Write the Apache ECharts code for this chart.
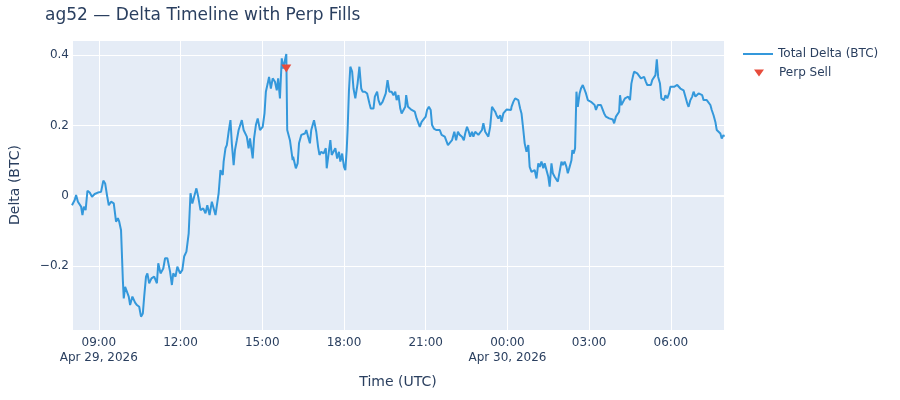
<!DOCTYPE html>
<html>
<head>
<meta charset="utf-8">
<script src="https://cdn.jsdelivr.net/npm/echarts@6/dist/echarts.min.js"></script>
<style>
  html, body { margin: 0; padding: 0; background: #fff; }
  #chart { width: 900px; height: 400px; }
</style>
</head>
<body>
<div id="chart"></div>
<script>
// series start, minutes are counted from here (UTC)
var startTime = Date.UTC(2026, 3, 29, 8, 0);

// total delta, minutes since start
var deltaMinutes = [
  1, 7, 10, 14, 18, 21, 24, 27, 31, 35, 40, 45, 51, 58, 65, 70, 74, 78, 82, 87,
  93, 98, 102, 105, 109, 113, 115, 118, 122, 126, 129, 134, 140, 144, 149, 153, 157, 160, 164, 167,
  171, 176, 182, 188, 191, 196, 202, 206, 211, 217, 221, 224, 229, 233, 239, 244, 248, 253, 258, 262,
  266, 269, 275, 279, 284, 290, 295, 299, 304, 309, 313, 317, 320, 324, 328, 333, 335, 339, 342, 346,
  350, 353, 357, 360, 364, 368, 371, 375, 379, 382, 386, 390, 393, 397, 399, 402, 406, 410, 415, 421,
  425, 428, 432, 435, 439, 443, 448, 452, 455, 459, 463, 466, 470, 473, 475, 481, 487,
  488, 492, 494, 498, 501, 506, 510, 514, 517, 521, 525, 528, 534, 539, 543, 546, 550, 555, 560, 562,
  566, 570, 573, 577, 581, 585, 589, 592, 596, 600, 603, 606, 608, 611, 614, 618, 621, 625, 630, 634,
  638, 641, 646, 651, 656, 659, 665, 668, 673, 676, 680, 685, 689, 692, 696, 700, 705, 709, 713, 716,
  720, 724, 727, 731, 735, 737, 741, 745, 749, 753, 756, 760, 764, 767, 771, 775, 780, 783, 787, 791,
  794, 798, 803, 807, 811, 815, 818, 822, 826, 829, 833, 838, 843, 847, 851, 855, 860, 864, 867, 871,
  875, 878, 882, 885, 889, 893, 896, 900, 904, 907, 911, 915, 918, 922, 926, 929, 933, 936, 940, 944,
  947, 951, 955, 958, 962, 968,
  969, 973, 977, 980, 984, 988, 991, 995, 998, 1002, 1006, 1009, 1013, 1017, 1020, 1024, 1028, 1031, 1035, 1039,
  1042, 1046, 1050, 1053, 1057, 1060, 1064, 1068, 1071, 1075, 1079, 1082, 1086, 1090, 1093, 1097, 1101, 1103, 1106, 1109,
  1112, 1115, 1119, 1122, 1126, 1130, 1133, 1137, 1141, 1144, 1148, 1152, 1155, 1159, 1162, 1166, 1170, 1173, 1177, 1181,
  1184, 1188, 1192, 1195, 1199, 1203, 1206, 1208, 1211, 1215, 1219, 1222, 1226, 1230, 1233, 1237, 1239, 1243, 1246, 1250,
  1254, 1257, 1261, 1265, 1268, 1272, 1276, 1279, 1283, 1286, 1289, 1292, 1296, 1299, 1303, 1305, 1308, 1312, 1316, 1319,
  1323, 1327, 1330, 1334, 1338, 1341, 1345, 1348, 1352, 1356, 1359, 1363, 1367, 1370, 1374, 1378, 1381, 1385, 1389, 1392,
  1396, 1399, 1403, 1407, 1410, 1414, 1418, 1421, 1425, 1429, 1432, 1436, 1437
];

var deltaValues = [
  -0.027, -0.012, 0.002, -0.017, -0.012, -0.031, -0.055, -0.031, -0.041, 0.014, 0.009, -0.003, 0.005, 0.009, 0.011, 0.043, 0.035, 0.002, -0.027, -0.017,
  -0.022, -0.074, -0.064, -0.074, -0.098, -0.240, -0.292, -0.259, -0.254, -0.287, -0.311, -0.287, -0.304, -0.311, -0.316, -0.344, -0.335, -0.287, -0.230, -0.221,
  -0.249, -0.235, -0.230, -0.249, -0.192, -0.221, -0.207, -0.178, -0.178, -0.216, -0.254, -0.221, -0.230, -0.202, -0.221, -0.211, -0.173, -0.159, -0.107, 0.007,
  -0.022, -0.008, 0.021, -0.003, -0.041, -0.036, -0.050, -0.027, -0.055, -0.017, -0.012, -0.055, -0.060, 0.007, 0.073, 0.059, 0.097, 0.135, 0.144, 0.182,
  0.215, 0.149, 0.087, 0.130, 0.158, 0.187, 0.187, 0.215, 0.187, 0.191, 0.168, 0.135, 0.163, 0.168, 0.106, 0.163, 0.201, 0.220, 0.187, 0.196,
  0.234, 0.296, 0.319, 0.338, 0.305, 0.334, 0.324, 0.300, 0.334, 0.277, 0.391, 0.362, 0.367, 0.403, 0.187, 0.158, 0.101,
  0.111, 0.116, 0.078, 0.092, 0.149, 0.173, 0.168, 0.177, 0.187, 0.168, 0.149, 0.187, 0.215, 0.182, 0.139, 0.116, 0.125, 0.120, 0.135, 0.078,
  0.082, 0.158, 0.116, 0.120, 0.135, 0.106, 0.125, 0.097, 0.120, 0.082, 0.073, 0.130, 0.187, 0.300, 0.367, 0.353, 0.305, 0.277, 0.319, 0.367,
  0.305, 0.296, 0.296, 0.291, 0.263, 0.248, 0.248, 0.282, 0.296, 0.272, 0.258, 0.267, 0.272, 0.291, 0.329, 0.296, 0.296, 0.286, 0.296, 0.272,
  0.286, 0.248, 0.234, 0.229, 0.253, 0.286, 0.253, 0.258, 0.244, 0.248, 0.239, 0.220, 0.225, 0.196, 0.210, 0.206, 0.225, 0.244, 0.253, 0.244,
  0.201, 0.191, 0.187, 0.182, 0.187, 0.173, 0.177, 0.168, 0.163, 0.144, 0.149, 0.158, 0.182, 0.158, 0.182, 0.173, 0.168, 0.158, 0.177, 0.196,
  0.182, 0.168, 0.182, 0.168, 0.182, 0.187, 0.173, 0.177, 0.187, 0.206, 0.182, 0.177, 0.168, 0.196, 0.253, 0.253, 0.239, 0.229, 0.220, 0.229,
  0.210, 0.234, 0.239, 0.245, 0.248, 0.244,
  0.253, 0.267, 0.277, 0.272, 0.272, 0.248, 0.234, 0.187, 0.149, 0.125, 0.144, 0.082, 0.068, 0.064, 0.073, 0.049, 0.092, 0.082, 0.097, 0.078,
  0.092, 0.087, 0.054, 0.026, 0.092, 0.064, 0.054, 0.049, 0.040, 0.035, 0.097, 0.087, 0.097, 0.082, 0.064, 0.082, 0.101, 0.130, 0.120, 0.135,
  0.296, 0.253, 0.291, 0.305, 0.315, 0.319, 0.291, 0.272, 0.277, 0.267, 0.267, 0.258, 0.244, 0.258, 0.253, 0.258, 0.253, 0.234, 0.225, 0.225,
  0.220, 0.225, 0.217, 0.206, 0.225, 0.220, 0.239, 0.286, 0.258, 0.253, 0.277, 0.282, 0.282, 0.272, 0.319, 0.343, 0.353, 0.348, 0.348, 0.343,
  0.334, 0.329, 0.338, 0.324, 0.315, 0.310, 0.315, 0.329, 0.334, 0.343, 0.388, 0.338, 0.319, 0.277, 0.282, 0.272, 0.286, 0.277, 0.291, 0.310,
  0.315, 0.310, 0.310, 0.315, 0.319, 0.305, 0.310, 0.300, 0.296, 0.263, 0.253, 0.272, 0.282, 0.296, 0.282, 0.286, 0.291, 0.291, 0.286, 0.272,
  0.267, 0.272, 0.267, 0.258, 0.244, 0.229, 0.210, 0.187, 0.187, 0.177, 0.163, 0.173, 0.168
];

// perp fills
var sellMinutes = [473];
var sellValues = [0.362];

var yMin = -0.382, yMax = 0.443;

var months = ['Jan', 'Feb', 'Mar', 'Apr', 'May', 'Jun', 'Jul', 'Aug', 'Sep', 'Oct', 'Nov', 'Dec'];
var HOUR = 3600 * 1000;

function pad(n) { return n < 10 ? '0' + n : '' + n; }

var deltaData = deltaMinutes.map(function (m, i) {
  return [startTime + m * 60000, deltaValues[i]];
});
var sellData = sellMinutes.map(function (m, i) {
  return [startTime + m * 60000, sellValues[i]];
});
var xMin = deltaData[0][0];
var xMax = deltaData[deltaData.length - 1][0];
var firstTick = Math.ceil(xMin / (3 * HOUR)) * 3 * HOUR;

var font = '"DejaVu Sans", Verdana, sans-serif';
var ink = '#2a3f5f';

var chart = echarts.init(document.getElementById('chart'));
chart.setOption({
  animation: false,
  backgroundColor: '#fff',
  textStyle: { fontFamily: font, color: ink },
  title: {
    text: 'ag52 — Delta Timeline with Perp Fills',
    left: 45,
    top: 7,
    padding: 0,
    textStyle: { fontFamily: font, fontSize: 17, fontWeight: 'normal', color: ink }
  },
  legend: [
    {
      data: [{ name: 'Total Delta (BTC)', icon: 'rect' }],
      left: 743,
      top: 48,
      padding: 0,
      itemWidth: 30,
      itemHeight: 2,
      textStyle: { fontFamily: font, fontSize: 12, color: ink }
    },
    {
      data: [{ name: 'Perp Sell', icon: 'path://M0,0 L10,0 L5,7 Z' }],
      left: 754,
      top: 67,
      padding: 0,
      itemWidth: 10,
      itemHeight: 7,
      textStyle: { fontFamily: font, fontSize: 12, color: ink, padding: [0, 0, 0, 10] }
    }
  ],
  grid: { left: 67, right: 176, top: 40, bottom: 70, containLabel: false,
    show: true, backgroundColor: '#E5ECF6', borderWidth: 0 },
  xAxis: {
    type: 'value',
    min: xMin,
    max: xMax,
    minInterval: 3 * HOUR,
    maxInterval: 3 * HOUR,
    name: 'Time (UTC)',
    nameLocation: 'middle',
    nameGap: 45,
    nameTextStyle: { fontFamily: font, fontSize: 14, color: ink },
    axisLine: { show: false },
    axisTick: { show: false },
    splitLine: { show: true, lineStyle: { color: '#fff', width: 1 } },
    axisLabel: {
      fontFamily: font,
      fontSize: 12,
      color: ink,
      lineHeight: 15,
      margin: 5,
      hideOverlap: false,
      formatter: function (value) {
        var d = new Date(value);
        var h = d.getUTCHours();
        if (d.getUTCMinutes() !== 0 || h % 3 !== 0) return '';
        var s = pad(h) + ':00';
        if (value === firstTick || h === 0) {
          s += '\n' + months[d.getUTCMonth()] + ' ' + d.getUTCDate() + ', ' + d.getUTCFullYear();
        }
        return s;
      }
    }
  },
  yAxis: {
    type: 'value',
    min: yMin,
    max: yMax,
    minInterval: 0.2,
    maxInterval: 0.2,
    name: 'Delta (BTC)',
    nameLocation: 'middle',
    nameGap: 50,
    nameTextStyle: { fontFamily: font, fontSize: 14, color: ink },
    axisLine: { show: false },
    axisTick: { show: false },
    splitLine: { show: true, lineStyle: { color: '#fff', width: 1 } },
    axisLabel: {
      fontFamily: font,
      fontSize: 12,
      color: ink,
      margin: 3,
      formatter: function (v) {
        var r = Math.round(v * 10) / 10;
        if (Math.abs(v - r) > 1e-6 || Math.round(r * 10) % 2 !== 0) return '';
        if (r === 0) return '0';
        return (r < 0 ? '\u2212' : '') + Math.abs(r).toFixed(1);
      }
    }
  },
  series: [
    {
      name: 'Total Delta (BTC)',
      type: 'line',
      data: deltaData,
      symbol: 'none',
      lineStyle: { color: '#3498db', width: 2 },
      itemStyle: { color: '#3498db' },
      markLine: {
        silent: true,
        symbol: 'none',
        label: { show: false },
        lineStyle: { color: '#fff', width: 2, type: 'solid' },
        data: [{ yAxis: 0 }],
        z: 1
      },
      z: 3
    },
    {
      name: 'Perp Sell',
      type: 'scatter',
      data: sellData,
      symbol: 'triangle',
      symbolRotate: 180,
      symbolSize: [10, 8],
      itemStyle: { color: '#e74c3c', opacity: 1 },
      z: 4
    }
  ]
});
</script>
</body>
</html>
